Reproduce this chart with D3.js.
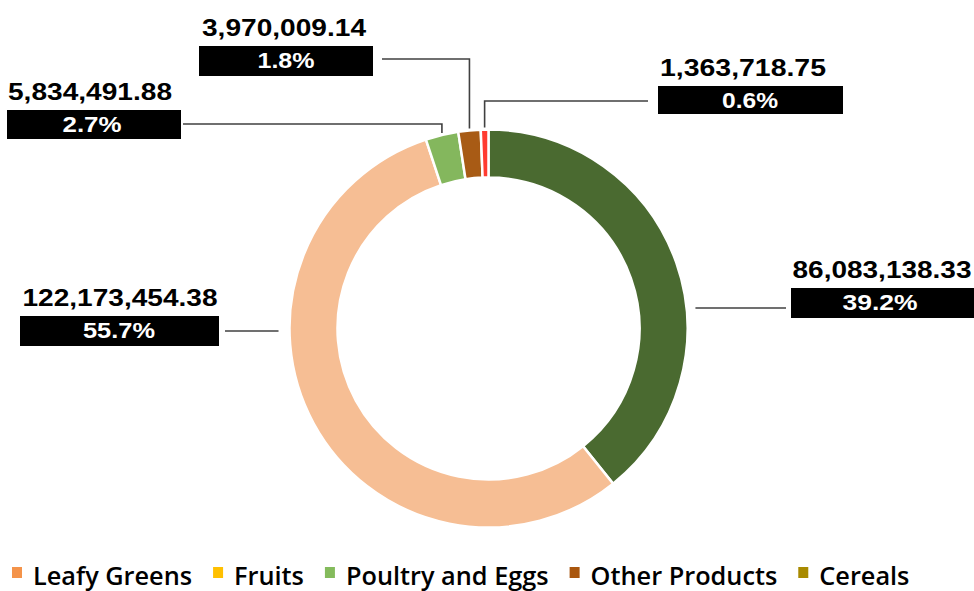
<!DOCTYPE html>
<html>
<head>
<meta charset="utf-8">
<script src="https://cdn.jsdelivr.net/npm/d3@7"></script>
<style>
  html, body { margin: 0; padding: 0; background: #ffffff; }
  svg { display: block; }
</style>
</head>
<body>
<svg id="chart" width="974" height="591"></svg>
<script>
// ---- data ----
const sliceValues = [86083138.33, 122173454.38, 5834491.88, 3970009.14, 1363718.75];
const sliceColors = ["#4A6A30", "#F6BE94", "#84B75D", "#A85B15", "#FF3B30"];
const legendLabels = ["Leafy Greens", "Fruits", "Poultry and Eggs", "Other Products", "Cereals"];
const legendColors = ["#F4934A", "#FFC000", "#84BB5C", "#A9560E", "#A88A00"];

// ---- layout (label boxes, not data) ----
const labelLayout = [
  { bx: 791, by: 288, bw: 190, bh: 30, vx: 882, vw: 179, px: 880, pw: 75, kind: "right", ly: 308, lx: 786 },
  { bx: 20,  by: 316, bw: 199, bh: 30, vx: 120, vw: 195, px: 119, pw: 72, kind: "left",  ly: 331, lx: 225 },
  { bx: 7,   by: 110, bw: 174, bh: 29, vx: 90,  vw: 164, px: 92,  pw: 59, kind: "top",   ly: 124, lx: 183 },
  { bx: 199, by: 46,  bw: 174, bh: 30, vx: 284, vw: 164, px: 286, pw: 57, kind: "top",   ly: 59,  lx: 382 },
  { bx: 658, by: 86,  bw: 185, bh: 28, vx: 743, vw: 166, px: 750, pw: 56, kind: "top",   ly: 101, lx: 648 }
];

const cx = 488.5, cy = 328.5, R = 199, r = 151;
const svg = d3.select("#chart");
const total = d3.sum(sliceValues);

const pie = d3.pie().sort(null).value(d => d).startAngle(0).endAngle(2 * Math.PI);
const arcs = pie(sliceValues);
const arc = d3.arc().innerRadius(r).outerRadius(R);

const g = svg.append("g").attr("transform", `translate(${cx},${cy})`);
g.selectAll("path.slice")
  .data(arcs)
  .join("path")
  .attr("class", "slice")
  .attr("d", arc)
  .attr("fill", (d, i) => sliceColors[i])
  .attr("stroke", "#ffffff")
  .attr("stroke-width", 2.5);

// ---- leader lines ----
const lineColor = "#404040";
arcs.forEach((d, i) => {
  const L = labelLayout[i];
  let pts;
  if (L.kind === "top") {
    const mid = (d.startAngle + d.endAngle) / 2;
    const ax = cx + R * Math.sin(mid);
    const ay = cy - Math.sqrt(R * R - (ax - cx) * (ax - cx)) - 2;
    pts = [[L.lx, L.ly], [ax, L.ly], [ax, ay]];
  } else if (L.kind === "left") {
    const ex = cx - Math.sqrt(R * R - (L.ly - cy) * (L.ly - cy)) - 11;
    pts = [[L.lx, L.ly], [ex, L.ly]];
  } else {
    const ex = cx + Math.sqrt(R * R - (L.ly - cy) * (L.ly - cy)) + 9;
    pts = [[ex, L.ly], [L.lx, L.ly]];
  }
  svg.append("path")
    .attr("d", d3.line()(pts))
    .attr("fill", "none")
    .attr("stroke", lineColor)
    .attr("stroke-width", 1.6);
});

// ---- labels ----
const fmtVal = d3.format(",.2f");
const fmtPct = d3.format(".1%");
arcs.forEach((d, i) => {
  const L = labelLayout[i];
  svg.append("rect")
    .attr("x", L.bx).attr("y", L.by)
    .attr("width", L.bw).attr("height", L.bh)
    .attr("fill", "#000000");
  svg.append("text")
    .attr("x", L.vx).attr("y", L.by - 10)
    .attr("text-anchor", "middle")
    .attr("font-family", "'Liberation Sans', Arial, sans-serif")
    .attr("font-weight", "bold")
    .attr("font-size", 23)
    .attr("textLength", L.vw)
    .attr("lengthAdjust", "spacingAndGlyphs")
    .attr("fill", "#000000")
    .text(fmtVal(d.value));
  svg.append("text")
    .attr("x", L.px).attr("y", L.by + 22)
    .attr("text-anchor", "middle")
    .attr("font-family", "'Liberation Sans', Arial, sans-serif")
    .attr("font-weight", "bold")
    .attr("font-size", 22.5)
    .attr("textLength", L.pw)
    .attr("lengthAdjust", "spacingAndGlyphs")
    .attr("fill", "#ffffff")
    .text(fmtPct(d.value / total));
});

// ---- legend ----
const legend = svg.append("g");
let lxPos = 12;
legendLabels.forEach((lab, i) => {
  legend.append("rect")
    .attr("x", lxPos).attr("y", 567)
    .attr("width", 10).attr("height", 11)
    .attr("fill", legendColors[i]);
  const t = legend.append("text")
    .attr("x", lxPos + 21).attr("y", 585)
    .attr("font-family", "'Open Sans', sans-serif")
    .attr("font-weight", 600)
    .attr("font-size", 25.3)
    .attr("fill", "#000000")
    .text(lab);
  const w = t.node().getComputedTextLength();
  lxPos += 21 + w + 21;
});
</script>
</body>
</html>
